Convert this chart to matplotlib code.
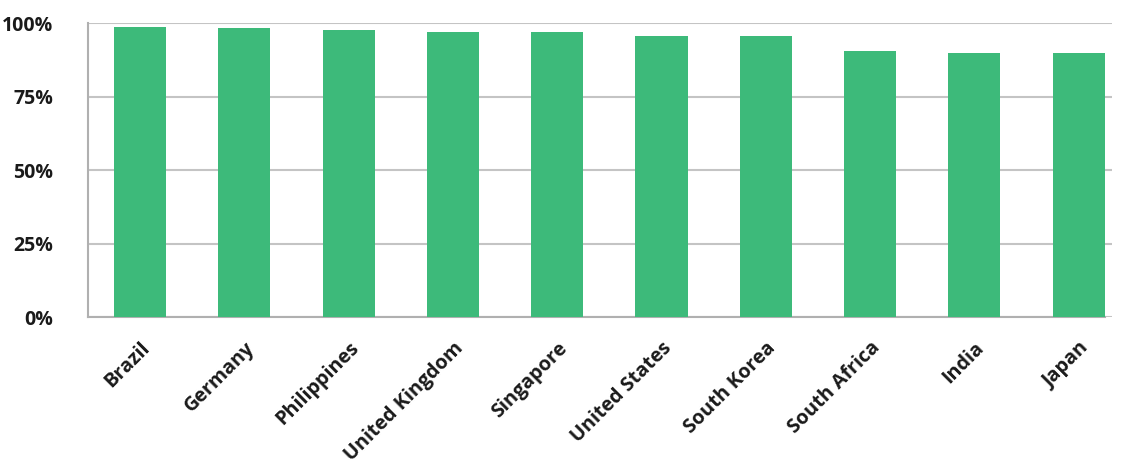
import matplotlib
matplotlib.use("Agg")
import matplotlib.pyplot as plt
import numpy as np

countries = ["Brazil", "Germany", "Philippines", "United Kingdom", "Singapore",
             "United States", "South Korea", "South Africa", "India", "Japan"]
values = [98.8, 98.3, 97.7, 96.9, 97.0, 95.8, 95.8, 90.6, 90.0, 90.0]
yticks = [0, 25, 50, 75, 100]
ytick_labels = ["0%", "25%", "50%", "75%", "100%"]

W, H = 1124, 468
fig = plt.figure(figsize=(W / 100, H / 100), dpi=100)
left, right = 88 / W, 1112 / W
top, bottom = 1 - 23.3 / H, 1 - 317.3 / H
ax = fig.add_axes([left, bottom, right - left, top - bottom])

fam = ["Open Sans", "DejaVu Sans"]
x = np.arange(len(countries))
ax.bar(x, values, width=0.5, color="#3dba7a", zorder=3)
ax.set_xlim(-0.5, 9.32)
ax.set_ylim(0, 100)
ax.set_yticks(yticks)
ax.set_yticklabels(ytick_labels, fontsize=14, fontweight="bold", family=fam, color="#1a1a1a")
ax.set_xticks(x)
ax.set_xticklabels(countries, rotation=45, ha="right", rotation_mode="anchor",
                   fontsize=14.2, fontweight="bold", family=fam, color="#1a1a1a")
ax.tick_params(axis="y", length=0, pad=25)
ax.tick_params(axis="x", length=0, pad=15)
ax.grid(axis="y", color="#c4c4c4", linewidth=1.5, zorder=0)
for s in ["top", "right"]:
    ax.spines[s].set_visible(False)
for s in ["left", "bottom"]:
    ax.spines[s].set_color("#b0b0b0")
    ax.spines[s].set_linewidth(1.5)
ax.spines["bottom"].set_bounds(-0.5, 9.25)

fig.savefig("out.png", dpi=100)
